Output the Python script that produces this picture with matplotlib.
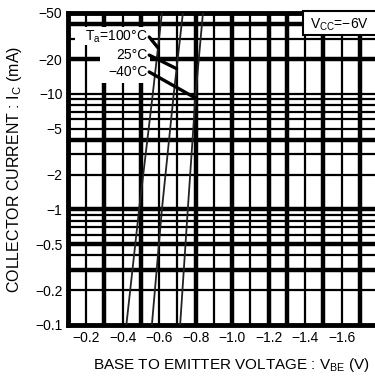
import numpy as np
import matplotlib
matplotlib.use('Agg')
import matplotlib.pyplot as plt
from matplotlib.patches import Rectangle

plt.rcParams['font.family'] = ['Liberation Sans', 'DejaVu Sans']
plt.rcParams['mathtext.fontset'] = 'custom'
plt.rcParams['mathtext.rm'] = 'Liberation Sans'

# collector current (mA) and base-emitter voltage (V)
current = [-0.1, -1, -10, -50]
vbe_100 = [-0.42, -0.49, -0.565, -0.615]
vbe_25 = [-0.56, -0.615, -0.68, -0.73]
vbe_m40 = [-0.715, -0.757, -0.80, -0.84]
curve_labels = ['T$_\\mathrm{a}$=100°C', '25°C', '−40°C']
leader_current = [-25, -16.5, -9.2]   # where the leader lines meet each curve

x_ticks = [-0.2, -0.4, -0.6, -0.8, -1.0, -1.2, -1.4, -1.6]
x_ticklabels = ['−0.2', '−0.4', '−0.6', '−0.8', '−1.0', '−1.2', '−1.4', '−1.6']
y_ticks = [-0.1, -0.2, -0.5, -1, -2, -5, -10, -20, -50]
y_ticklabels = ['−0.1', '−0.2', '−0.5', '−1', '−2', '−5', '−10', '−20', '−50']

x_grid = [-0.2, -0.3, -0.4, -0.5, -0.6, -0.7, -0.8, -0.9, -1.0,
          -1.1, -1.2, -1.3, -1.4, -1.5, -1.6, -1.7]
x_grid_thick = [-0.3, -0.5, -0.8, -1.0, -1.2, -1.3, -1.5, -1.7]
y_grid = [-0.2, -0.3, -0.4, -0.5, -0.6, -0.7, -0.8, -0.9, -1, -2, -3, -4,
          -5, -6, -7, -8, -9, -10, -20, -30, -40]
y_grid_thick = [-0.3, -0.5, -1, -4, -20, -40]

fig = plt.figure(figsize=(3.75, 3.77), dpi=100)
ax = fig.add_axes([68 / 375, 52 / 377, 310 / 375, 312 / 377])
ax.set_yscale('log')
ax.set_xlim(-0.1, -1.8)
ax.set_ylim(0.1, 50)

# grid, drawn by hand so that line weights can vary like the scan
for v in x_grid:
    ax.axvline(v, color='black', lw=3.2 if v in x_grid_thick else 1.6, zorder=1)
for c in y_grid:
    ax.axhline(-c, color='black', lw=3.2 if c in y_grid_thick else 1.6, zorder=1)

# white areas behind the temperature labels
for x0, y0, w, h in [(0.023, 0.897, 0.242, 0.058),
                     (0.103, 0.837, 0.162, 0.060),
                     (0.071, 0.776, 0.194, 0.061)]:
    ax.add_patch(Rectangle((x0, y0), w, h, transform=ax.transAxes,
                           fc='white', ec='none', zorder=2))

cur = -np.array(current)
for vbe in [vbe_100, vbe_25, vbe_m40]:
    ax.plot(vbe, cur, color='#222222', lw=1.3, zorder=4)

label_y = [0.923, 0.865, 0.811]
for vbe, lab, lc, ty in zip([vbe_100, vbe_25, vbe_m40], curve_labels,
                            leader_current, label_y):
    vx = np.interp(np.log10(-lc), np.log10(cur), vbe)
    ax.text(0.258, ty, lab, transform=ax.transAxes, ha='right', va='center',
            fontsize=10, zorder=5)
    ax.annotate('', xy=(vx, -lc), xytext=(0.262, ty),
                textcoords='axes fraction',
                arrowprops=dict(arrowstyle='-', lw=2.4, color='black',
                                shrinkA=0, shrinkB=0), zorder=5)

# supply voltage box
ax.add_patch(Rectangle((0.757, 0.928), 0.3, 0.08, transform=ax.transAxes,
                       fc='white', ec='black', lw=1.5, zorder=3, clip_on=False))
ax.text(0.875, 0.963, 'V$_\\mathrm{CC}$=−6V', transform=ax.transAxes,
        ha='center', va='center', fontsize=10, zorder=5)

ax.set_xticks(x_ticks)
ax.set_xticklabels(x_ticklabels, fontsize=10)
ax.set_yticks([-t for t in y_ticks])
ax.set_yticklabels(y_ticklabels, fontsize=10)
ax.yaxis.set_minor_locator(matplotlib.ticker.NullLocator())
ax.tick_params(length=0, pad=4)
for sp in ['left', 'bottom', 'top']:
    ax.spines[sp].set_linewidth(3.5)
ax.spines['right'].set_visible(False)

ax.set_xlabel('BASE TO EMITTER VOLTAGE : V$_\\mathrm{BE}$ (V)', fontsize=11,
              labelpad=8)
ax.xaxis.label.set_x(0.526)
ax.set_ylabel('COLLECTOR CURRENT : I$_\\mathrm{C}$ (mA)', fontsize=11.5,
              labelpad=8)

fig.savefig('out.png', dpi=100)
